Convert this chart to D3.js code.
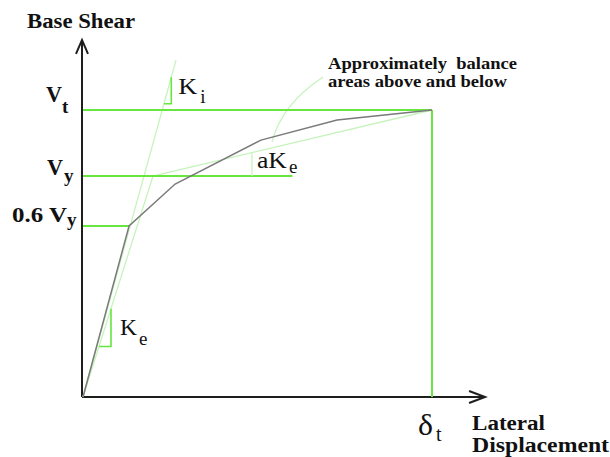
<!DOCTYPE html>
<html>
<head>
<meta charset="utf-8">
<script src="https://cdn.jsdelivr.net/npm/d3@7"></script>
<style>
  html, body { margin: 0; padding: 0; background: #fff; }
  svg { display: block; }
  text { font-family: "Liberation Serif", "Times New Roman", serif; fill: #111; }
</style>
</head>
<body>
<svg id="chart" width="610" height="457"></svg>
<script>
// Pushover capacity curve and its bilinear idealization.
// Displacement normalized to the target displacement (δt = 1),
// base shear normalized to the target shear (Vt = 1).
const capacityCurve = [[0, 0], [0.132, 0.596], [0.264, 0.742], [0.51, 0.895], [0.728, 0.965], [1, 1]];
const idealizedCurve = [[0, 0], [0.2006, 0.77], [1, 1]];
const initialStiffnessLine = [[0, 0], [0.2665, 1.174]];

// Shear levels: value and how far each reference line runs to the right
const levelNames = ["Vt", "Vy", "0.6Vy"];
const levelValues = [1.0, 0.77, 0.596];
const levelEnds = [1.0, 0.6, 0.132];

const targetDisplacement = 1.0;
const axisExtent = [1.152, 1.244];   // x, y reach of the axis arrows

// Leader for the note (quadratic curve: start, control, end)
const leaderCurve = [[0.5415, 0.889], [0.57, 1.021], [0.688, 1.115]];

const svg = d3.select("#chart");
const x = d3.scaleLinear().domain([0, 1]).range([83, 432]);
const y = d3.scaleLinear().domain([0, 1]).range([397, 110]);
const line = d3.line().x(d => x(d[0])).y(d => y(d[1]));

const BRIGHT = "#66e63e";
const PALE = "#c6f3bd";
const GREY = "#7a7a7a";
const AXIS = "#1e1e1e";

// Axes with open arrowheads
const g = svg.append("g");
g.append("line")
  .attr("x1", x(0) - 1).attr("y1", y(0)).attr("x2", x(0) - 1).attr("y2", y(axisExtent[1]) + 1)
  .attr("stroke", AXIS).attr("stroke-width", 2);
g.append("line")
  .attr("x1", x(0) - 1).attr("y1", y(0)).attr("x2", x(axisExtent[0]) - 1).attr("y2", y(0))
  .attr("stroke", AXIS).attr("stroke-width", 2);
const yTip = [x(0) - 1, y(axisExtent[1])];
g.append("path")
  .attr("d", `M${yTip[0] - 6},${yTip[1] + 14} L${yTip[0]},${yTip[1]} L${yTip[0] + 6},${yTip[1] + 14}`)
  .attr("fill", "none").attr("stroke", AXIS).attr("stroke-width", 2);
const xTip = [x(axisExtent[0]), y(0)];
g.append("path")
  .attr("d", `M${xTip[0] - 16},${xTip[1] - 6} L${xTip[0]},${xTip[1]} L${xTip[0] - 16},${xTip[1] + 6}`)
  .attr("fill", "none").attr("stroke", AXIS).attr("stroke-width", 2);

// Pale construction lines: initial stiffness, bilinear idealization, note leader
g.append("path").datum(initialStiffnessLine).attr("d", line)
  .attr("fill", "none").attr("stroke", PALE).attr("stroke-width", 1.3);
g.append("path").datum(idealizedCurve).attr("d", line)
  .attr("fill", "none").attr("stroke", PALE).attr("stroke-width", 1.3);
const lc = leaderCurve.map(p => [x(p[0]), y(p[1])]);
g.append("path")
  .attr("d", `M${lc[0][0]},${lc[0][1]} Q${lc[1][0]},${lc[1][1]} ${lc[2][0]},${lc[2][1]}`)
  .attr("fill", "none").attr("stroke", PALE).attr("stroke-width", 1.3);

// Reference levels and target displacement
levelValues.forEach((v, i) => {
  g.append("line")
    .attr("x1", x(0)).attr("y1", y(v)).attr("x2", x(levelEnds[i])).attr("y2", y(v))
    .attr("stroke", BRIGHT).attr("stroke-width", 2);
});
g.append("line")
  .attr("x1", x(targetDisplacement)).attr("y1", y(0))
  .attr("x2", x(targetDisplacement)).attr("y2", y(levelValues[0]))
  .attr("stroke", BRIGHT).attr("stroke-width", 2);

// Capacity curve
g.append("path").datum(capacityCurve).attr("d", line)
  .attr("fill", "none").attr("stroke", GREY).attr("stroke-width", 1.5);

// Slope markers
function slopeMarker(seg, x0, run) {
  const k = (seg[1][1] - seg[0][1]) / (seg[1][0] - seg[0][0]);
  const y0 = seg[0][1] + k * (x0 - seg[0][0]);
  const pts = [[x0, y0], [x0 + run, y0], [x0 + run, y0 + k * run]];
  g.append("path").datum(pts).attr("d", line)
    .attr("fill", "none").attr("stroke", BRIGHT).attr("stroke-width", 1.6);
  return pts;
}
const kiPts = slopeMarker(initialStiffnessLine, 0.232, 0.021);
const kePts = slopeMarker([idealizedCurve[0], idealizedCurve[1]], 0.0458, 0.0344);

// Post-yield slope marker: vertical from Vy up to the second branch
const aKeX = 0.484;
const b2 = [idealizedCurve[1], idealizedCurve[2]];
const aKeTop = b2[0][1] + (b2[1][1] - b2[0][1]) / (b2[1][0] - b2[0][0]) * (aKeX - b2[0][0]);
g.append("line")
  .attr("x1", x(aKeX)).attr("y1", y(levelValues[1]))
  .attr("x2", x(aKeX)).attr("y2", y(aKeTop))
  .attr("stroke", PALE).attr("stroke-width", 1.3);

// Labels: main glyphs plus a lowered subscript
function subLabel(px, py, main, sub, size, subSize, dx, dy, weight, mainLen) {
  const t = svg.append("text").attr("x", px).attr("y", py)
    .attr("font-size", size).attr("font-weight", weight);
  const m = t.append("tspan").text(main);
  if (mainLen) m.attr("textLength", mainLen).attr("lengthAdjust", "spacingAndGlyphs");
  t.append("tspan").attr("font-size", subSize).attr("dx", dx).attr("dy", dy).text(sub);
  return t;
}

svg.append("text").attr("x", 27).attr("y", 28)
  .attr("font-size", 21).attr("font-weight", "bold")
  .attr("textLength", 108).attr("lengthAdjust", "spacingAndGlyphs").text("Base Shear");

subLabel(46, y(levelValues[0]) - 8, "V", "t", 23, 19, 0, 11, "bold", 16);
subLabel(47, y(levelValues[1]) - 1, "V", "y", 23, 19, 1, 7, "bold", 16);
subLabel(12, y(levelValues[2]) - 4, "0.6 V", "y", 22, 19, 0, 4, "bold", 55);

subLabel(x(kiPts[1][0]) + 7, y(kiPts[2][1]) + 17, "K", "i", 23, 19, 3, 9, "normal", 19);
subLabel(x(kePts[1][0]) + 9, y(kePts[2][1]) + 26, "K", "e", 23, 19, 2, 10, "normal", 17);
subLabel(x(aKeX) + 5, y(levelValues[1]) - 8, "aK", "e", 23, 19, 2, 5, "normal", 30);

subLabel(x(targetDisplacement) - 14, y(0) + 38, "δ", "t", 29, 20, 3, 6, "normal", 15);

// Note text, one element per line
svg.append("text").attr("x", 328).attr("y", 68.5)
  .attr("font-size", 16).attr("font-weight", "bold").style("white-space", "pre")
  .attr("textLength", 189).attr("lengthAdjust", "spacingAndGlyphs")
  .text("Approximately  balance");
svg.append("text").attr("x", 328).attr("y", 87)
  .attr("font-size", 16).attr("font-weight", "bold")
  .attr("textLength", 179).attr("lengthAdjust", "spacingAndGlyphs")
  .text("areas above and below");

// Horizontal axis title, two lines
svg.append("text").attr("x", 472).attr("y", 430)
  .attr("font-size", 20).attr("font-weight", "bold")
  .attr("textLength", 73).attr("lengthAdjust", "spacingAndGlyphs").text("Lateral");
svg.append("text").attr("x", 472).attr("y", 452)
  .attr("font-size", 20).attr("font-weight", "bold")
  .attr("textLength", 137).attr("lengthAdjust", "spacingAndGlyphs").text("Displacement");
</script>
</body>
</html>
